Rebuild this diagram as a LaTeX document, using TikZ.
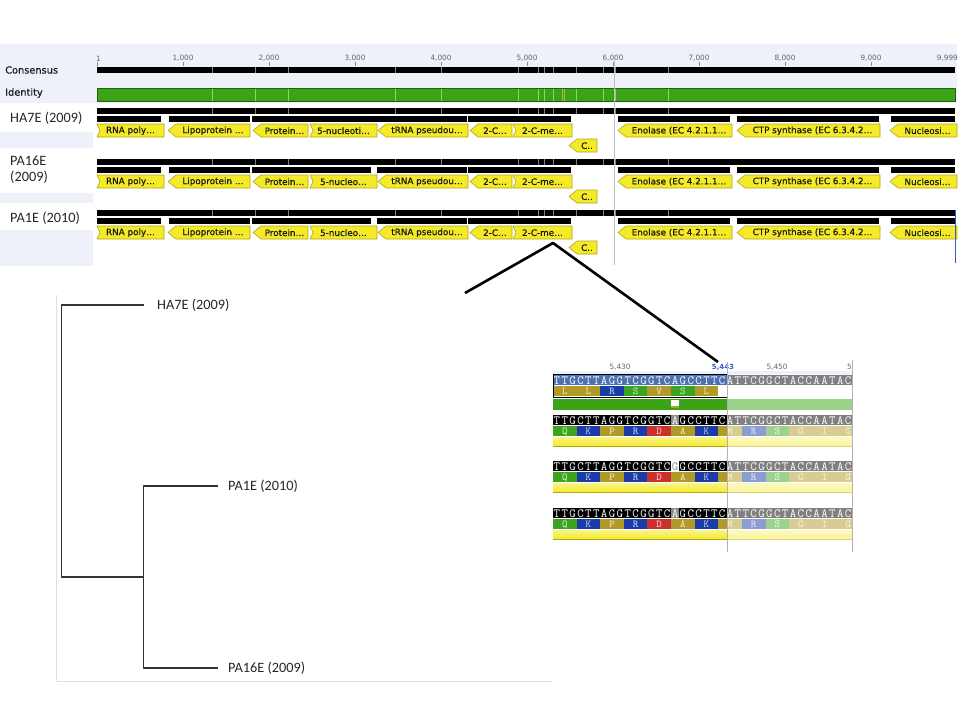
\documentclass[tikz,border=0pt]{standalone}
\usepackage{fontspec}
\setmainfont{Carlito}
\newfontfamily\dvsans{DejaVu Sans}
\definecolor{lav}{RGB}{238,240,250}
\definecolor{idgreen}{RGB}{58,164,22}
\definecolor{annfill}{RGB}{244,234,40}
\definecolor{annline}{RGB}{178,166,24}
\definecolor{seqblue}{RGB}{76,114,180}
\definecolor{aaolive}{RGB}{178,154,40}
\definecolor{aablue}{RGB}{26,60,168}
\definecolor{aagreen}{RGB}{60,164,30}
\definecolor{aared}{RGB}{200,50,42}
\definecolor{posblue}{RGB}{50,90,200}
\tikzset{
	ann/.style={fill=annfill,draw=annline,line width=0.6},
	annlbl/.style={font=\dvsans\fontsize{8.8}{9}\selectfont\addfontfeature{FakeBold=0.6},text=black!90,inner sep=0},
	sidelbl/.style={font=\dvsans\fontsize{9.8}{10}\selectfont\addfontfeature{FakeBold=0.5},text=black!90,inner sep=0,anchor=west},
	rowlbl/.style={font=\fontsize{14.3}{16}\selectfont,text=black!85,inner sep=0,anchor=west,align=left},
	ticklbl/.style={font=\dvsans\fontsize{7.3}{8}\selectfont,text=black!60,inner sep=0},
	nt/.style={font=\ttfamily\fontsize{12.5}{12}\selectfont\addfontfeature{FakeBold=1.2},inner sep=0},
	aa/.style={font=\ttfamily\fontsize{10.5}{10}\selectfont,inner sep=0},
	branch/.style={draw=black!80,line width=1.1}
}
\begin{document}
\begin{tikzpicture}[x=1pt,y=-1pt,line join=round,font=\fontsize{9}{10}\selectfont]
	\useasboundingbox (0,0) rectangle (960,720);
	\def\w{7.87}
	\fill[lav] (0,44) rectangle (957,103);
	\foreach \t/\b in {132/148,193/203,230/266} \fill[lav] (0,\t) rectangle (93,\b);
	\node[sidelbl] (cons) at (5,70) {Consensus};
	\node[sidelbl] (ident) at (5,93) {Identity};
	\node[rowlbl] (lha) at (10,118) {HA7E (2009)};
	\node[rowlbl] (lpb) at (10,170) {PA16E\\(2009)};
	\node[rowlbl] (lpa) at (10,218) {PA1E (2010)};
	\node[ticklbl,anchor=south west] (r0) at (96,61.5) {1};
	\foreach \k in {1,...,9} \node[ticklbl,anchor=south] (r\k) at ({97+86*\k},61.5) {\k,000};
	\node[ticklbl,anchor=south east] (r10) at (958,61.5) {9,999};
	\foreach \k in {0,...,9} \draw[black!45] ({97+86*\k},62) -- +(0,4);
	\fill[black] (97,66.5) rectangle (955,72.5);
	\fill[idgreen,draw=idgreen!60!black] (97,88) rectangle (955,101);
	\foreach \r in {0,1,2} \fill[black] (97,{108+51*\r}) rectangle (955,{114+51*\r});
	\foreach \s in {212,255,288,395,441,518,538,544,553,576,603,615,668} {
		\draw[black!45] (\s,66.5) -- (\s,72.5);
		\draw[idgreen!55!white] (\s,88.5) -- (\s,100.5);
		\foreach \r in {0,1,2} \draw[black!50] (\s,{108+51*\r}) -- (\s,{114+51*\r});
	}
	\foreach \s in {562,564} \draw[orange!45!idgreen!70!white] (\s,88.5) -- (\s,100.5);
	\foreach \r/\segs in {0/{97/161,169/250,252/467,468/571,618/730,737/879,891/955},1/{97/161,169/250,252/371,377/467,468/571,618/730,737/879,891/955},2/{97/161,169/250,252/371,377/467,468/571,618/730,737/879,891/955}}
		\foreach \s/\e in \segs \fill[black] (\s,{116+51*\r}) rectangle (\e,{122+51*\r});
	\foreach \r/\nuc in {0/5-nucleoti…,1/5-nucleo…,2/5-nucleo…} {
		\foreach \a/\b/\n/\h/\d/\txt [count=\i] in {97/164/3/0/0/RNA poly…,168/250/0/8/0/Lipoprotein …,253/308/0/8/0/Protein…,310/377/3/0/0/\nuc,378/468/0/8/0/tRNA pseudou…,470/512/0/8/0/2-C…,513/572/3/0/0/2-C-me…,569/597/0/8/15/C..,618/732/0/8/0/Enolase (EC 4.2.1.1…,737/880/0/8/0/CTP synthase (EC 6.3.4.2…,890/957/0/8/0/Nucleosi…} {
			\pgfmathsetmacro\yt{124+51*\r+\d}
			\draw[ann] (\a+\n,\yt+6.5) -- (\a+\h,\yt) -- (\b,\yt) -- (\b,\yt+13) -- (\a+\h,\yt+13) -- cycle;
			\node[annlbl] (f\r-\i) at ({(\a+\h+\b)/2},\yt+6.7) {\txt};
		}
	}
	\draw[black!25] (614,60) -- (614,265);
	\draw[posblue,line width=1.2] (955.5,210) -- (955.5,263);
	\draw[black!12] (55.7,295) -- (55.7,681) -- (553,681);
	\coordinate (root) at (61.7,577);
	\coordinate (inner) at (143.7,577);
	\coordinate (tha) at (144,305);
	\coordinate (tpa) at (218,486);
	\coordinate (tpb) at (218,668);
	\draw[branch] (tha) -| (root) -- (inner);
	\draw[branch] (tpa) -| (inner) |- (tpb);
	\node[rowlbl] (nha) at (157,305) {HA7E (2009)};
	\node[rowlbl] (npa) at (228,486) {PA1E (2010)};
	\node[rowlbl] (npb) at (228,668) {PA16E (2009)};
	\coordinate (cA) at (465,293);
	\coordinate (cB) at (553,243);
	\coordinate (cC) at (718,362);
	\draw[line width=2.6] (cA) -- (cB) -- (cC);
	\begin{scope}
		\clip (553,355) rectangle (852.5,553);
		\fill[lav] (553,371) rectangle (852,375);
		\node[ticklbl] (p0) at (620,367) {5,430};
		\node[ticklbl,text=posblue,font=\dvsans\bfseries\fontsize{7}{7}\selectfont] (p1) at (723,367) {5,443};
		\node[ticklbl] (p2) at (777,367) {5,450};
		\node[ticklbl,anchor=west] (p3) at (847,367) {5};
		\foreach \t/\sq/\bg/\hb/\hc in {375/{T,T,G,C,T,T,A,G,G,T,C,G,G,T,C,A,G,C,C,T,T,C,A,T,T,C,G,G,C,T,A,C,C,A,A,T,A,C}/seqblue/seqblue/white,415/{T,T,G,C,T,T,A,G,G,T,C,G,G,T,C,A,G,C,C,T,T,C,A,T,T,C,G,G,C,T,A,C,C,A,A,T,A,C}/black/black!45/white,461/{T,T,G,C,T,T,A,G,G,T,C,G,G,T,C,G,G,C,C,T,T,C,A,T,T,C,G,G,C,T,A,C,C,A,A,T,A,C}/black/white/black!45,508/{T,T,G,C,T,T,A,G,G,T,C,G,G,T,C,A,G,C,C,T,T,C,A,T,T,C,G,G,C,T,A,C,C,A,A,T,A,C}/black/black!45/white} {
			\fill[black] (553,\t) rectangle (852,\t+10);
			\fill[\bg] (553,\t) rectangle (727,\t+10);
			\fill[\hb] ({553+15*\w},\t) rectangle +(\w,10);
			\foreach \c [count=\i] in \sq {
				\ifnum\i=16 \colorlet{nc}{\hc}\else\colorlet{nc}{white}\fi
				\node[nt,text=nc] (n\t-\i) at ({553+(\i-0.5)*\w},\t+5.5) {\c};
			}
		}
		\foreach \aa/\col [count=\i] in {L/aaolive,L/aaolive,R/aablue,S/aagreen,V/aaolive,S/aagreen,L/aaolive} {
			\fill[\col] ({553+(\i-1)*3*\w},386) rectangle +(3*\w,10);
			\node[aa,text=\col!20!white] (c\i) at ({553+(\i-0.5)*3*\w},391.5) {\aa};
		}
		\foreach \t in {426,472,519} {
			\foreach \aa/\col [count=\i] in {Q/aagreen,K/aablue,P/aaolive,R/aablue,D/aared,A/aaolive,K/aablue,M/aaolive,R/aablue,S/aagreen,G/aaolive,I/aaolive,G/aaolive} {
				\fill[\col] ({553+(\i-1)*3*\w},\t) rectangle +(3*\w,10);
				\node[aa,text=\col!20!white] (a\t-\i) at ({553+(\i-0.5)*3*\w},\t+5.5) {\aa};
			}
			\shade[top color=annfill!55!white,bottom color=annfill] (553,\t+11) rectangle (852,\t+20);
			\draw[annline] (553,\t+20) -- (852,\t+20);
		}
		\fill[idgreen] (553,399) rectangle (852,410);
		\fill[white] ({553+15*\w},399.5) rectangle +(\w,6);
		\fill[annline] ({553+15*\w},405.5) rectangle +(\w,2);
		\fill[white,opacity=0.5] (727,374) rectangle (853,545);
		\draw[line width=0.8] (553,374.5) rectangle (727,397.5);
	\end{scope}
	\draw[black!30] (727,362) -- (727,552);
	\draw[black!30] (852,360) -- (852,552);
\end{tikzpicture}
\end{document}
